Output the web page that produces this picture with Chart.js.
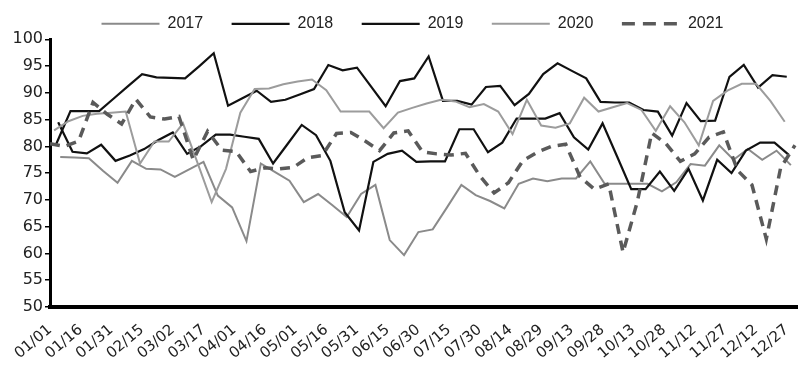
<!DOCTYPE html>
<html>
<head>
<meta charset="utf-8">
<script src="https://cdn.jsdelivr.net/npm/chart.js@4.4.0/dist/chart.umd.min.js"></script>
<style>
  html, body { margin: 0; padding: 0; background: #fff; }
</style>
</head>
<body>
<canvas id="chart" width="803" height="368"></canvas>
<script>
  // x axis: day of year, a label every 15 days
  const xTickLabels = [
    "01/01", "01/16", "01/31", "02/15", "03/02", "03/17", "04/01", "04/16",
    "05/01", "05/16", "05/31", "06/15", "06/30", "07/15", "07/30", "08/14",
    "08/29", "09/13", "09/28", "10/13", "10/28", "11/12", "11/27", "12/12", "12/27"
  ];
  const yTickStep = 5;

  // weekly readings (Fridays); day of year of each year's first one
  const years = ["2017", "2018", "2019", "2020", "2021"];
  const firstFriday = [5, 4, 3, 2, 0];

  const values2017 = [
    78.0, 77.9, 77.8, 75.4, 73.2, 77.3, 75.8, 75.7, 74.3, 75.7,
    77.1, 70.8, 68.6, 62.3, 76.8, 75.2, 73.6, 69.6, 71.1, 69.0,
    66.8, 71.1, 72.8, 62.5, 59.7, 64.0, 64.5, 68.6, 72.8, 70.9,
    69.8, 68.4, 73.0, 74.0, 73.5, 74.0, 74.0, 77.2, 73.0, 73.0,
    73.0, 73.0, 71.6, 73.3, 76.7, 76.4, 80.2, 77.5, 79.5, 77.5,
    79.2, 76.5
  ];
  const values2018 = [
    84.5, 79.0, 78.7, 80.3, 77.3, 78.3, 79.5, 81.2, 82.6, 78.6,
    80.1, 82.2, 82.2, 81.8, 81.4, 76.8, 80.4, 84.0, 82.1, 77.3,
    67.7, 64.3, 77.1, 78.6, 79.2, 77.1, 77.2, 77.2, 83.2, 83.2,
    78.9, 80.7, 85.2, 85.2, 85.2, 86.2, 81.7, 79.4, 84.3, 78.2,
    72.0, 72.0, 75.3, 71.7, 75.8, 69.9, 77.5, 75.0, 79.2, 80.7,
    80.7, 78.4
  ];
  const values2019 = [
    80.4, 86.6, 86.6, 86.6, 88.9, 91.2, 93.5, 92.9, 92.8, 92.7,
    95.0, 97.4, 87.6, 89.0, 90.4, 88.3, 88.7, 89.7, 90.7, 95.2,
    94.2, 94.7, 91.1, 87.5, 92.2, 92.7, 96.8, 88.5, 88.5, 87.8,
    91.1, 91.3, 87.7, 89.8, 93.5, 95.5, 94.1, 92.7, 88.3, 88.2,
    88.2, 86.8, 86.5, 82.0, 88.1, 84.7, 84.8, 93.0, 95.2, 91.0,
    93.3, 93.0
  ];
  const values2020 = [
    83.0, 84.7, 85.7, 86.1, 86.3, 86.5, 76.8, 80.9, 80.9, 84.3,
    77.0, 69.6, 75.8, 86.3, 90.7, 90.8, 91.6, 92.1, 92.5, 90.5,
    86.5, 86.5, 86.5, 83.4, 86.3, 87.2, 88.0, 88.7, 88.4, 87.3,
    87.9, 86.5, 82.3, 88.7, 83.9, 83.5, 84.3, 89.1, 86.5, 87.3,
    88.1, 86.8, 82.9, 87.5, 84.5, 80.2, 88.5, 90.4, 91.7, 91.7,
    88.5, 84.6
  ];
  const values2021 = [
    80.5, 80.0, 81.0, 88.2, 86.0, 84.2, 88.8, 85.5, 85.1, 85.6,
    77.5, 82.8, 79.3, 79.0, 75.3, 76.0, 75.8, 76.1, 77.9, 78.3,
    82.4, 82.6, 81.0, 79.2, 82.5, 82.9, 79.0, 78.6, 78.4, 78.7,
    74.5, 71.3, 73.2, 77.3, 78.9, 80.0, 80.4, 74.3, 72.0, 73.0,
    60.2, 69.7, 82.5, 80.5, 77.2, 78.6, 81.7, 82.7, 75.5, 72.8,
    62.7, 76.0, 80.2
  ];

  const seriesValues = [values2017, values2018, values2019, values2020, values2021];
  const seriesColors = ["#8a8a8a", "#111111", "#111111", "#9c9c9c", "#5a5a5a"];
  const seriesWidths = [2, 2.2, 2.2, 2, 3.5];

  function weekly(values, firstDay) {
    return values.map((v, i) => ({ x: firstDay + i * 7, y: v }));
  }

  const datasets = years.map((year, i) => ({
    label: year,
    data: weekly(seriesValues[i], firstFriday[i]),
    borderColor: seriesColors[i],
    backgroundColor: seriesColors[i],
    borderWidth: seriesWidths[i],
    borderDash: year === "2021" ? [10, 7] : [],
    pointRadius: 0,
    tension: 0,
    fill: false,
    order: years.length - i,
  }));

  // the legend sits a little lower and further right than Chart.js puts it
  const legendNudge = {
    id: "legendNudge",
    afterLayout(chart) {
      const lg = chart.legend;
      lg.top += 2.5;
      lg.bottom += 2.5;
      lg.left += 14;
      lg.right += 14;
    },
  };

  new Chart(document.getElementById("chart"), {
    type: "line",
    data: { datasets },
    plugins: [legendNudge],
    options: {
      responsive: false,
      animation: false,
      layout: { padding: { top: -15.2, left: 0, right: 6, bottom: 0 } },
      plugins: {
        tooltip: { enabled: false },
        legend: {
          position: "top",
          labels: {
            usePointStyle: true,
            pointStyle: "line",
            pointStyleWidth: 58,
            padding: 28.5,
            color: "#222",
            font: { family: "'Liberation Sans', Arial, sans-serif", size: 16 },
            sort: (a, b) => a.datasetIndex - b.datasetIndex,
            generateLabels: (chart) => {
              const items = Chart.defaults.plugins.legend.labels.generateLabels(chart);
              items.forEach((item) => {
                if (item.text === "2021") item.lineDash = [13, 8];
                item.pointStyle = "line";
              });
              return items;
            },
          },
        },
      },
      scales: {
        x: {
          type: "linear",
          min: 0,
          max: 365,
          grid: { display: false, drawTicks: false },
          border: { display: true, color: "#000", width: 4 },
          ticks: {
            stepSize: 15,
            includeBounds: false,
            autoSkip: false,
            maxTicksLimit: 100,
            minRotation: 40,
            maxRotation: 40,
            padding: 14,
            color: "#222",
            font: { family: "'DejaVu Sans', sans-serif", size: 15 },
            callback: (value) => xTickLabels[Math.round(value / 15)],
          },
          afterFit: (scale) => {
            scale.height = 61;
            scale.paddingLeft = 0;
            scale.paddingRight = 0;
          },
        },
        y: {
          min: 50,
          max: 100,
          grid: { drawOnChartArea: false, color: "#000", lineWidth: 1.5, tickLength: 5 },
          border: { display: true, color: "#000", width: 3 },
          ticks: {
            stepSize: yTickStep,
            padding: 2,
            color: "#222",
            font: { family: "'DejaVu Sans', sans-serif", size: 16 },
          },
          afterFit: (scale) => {
            scale.width = 50;
          },
        },
      },
    },
  });
</script>
</body>
</html>
